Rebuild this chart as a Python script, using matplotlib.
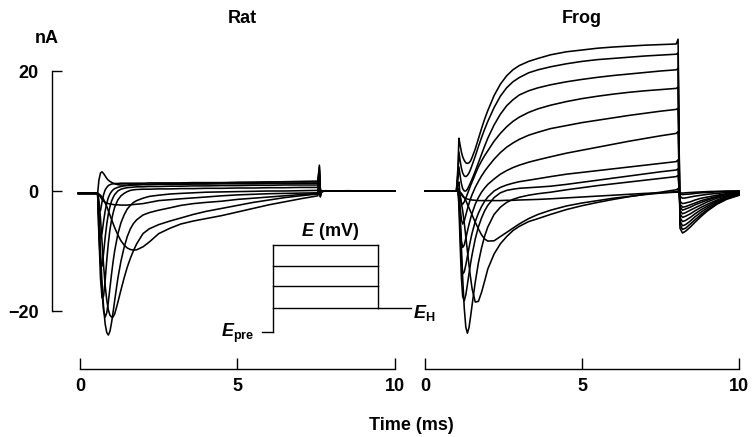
import matplotlib
matplotlib.use("Agg")
import matplotlib.pyplot as plt

plt.rcParams['font.family'] = ['Liberation Sans', 'DejaVu Sans']
plt.rcParams['font.weight'] = 'bold'
plt.rcParams['mathtext.fontset'] = 'custom'
plt.rcParams['mathtext.rm'] = 'Liberation Sans:bold'
plt.rcParams['mathtext.it'] = 'Liberation Sans:italic:bold'

# ---------------- data ----------------
panel_titles = ["Rat", "Frog"]
x_ticks = [0, 5, 10]
y_ticks = [-20, 0, 20]

# Rat: membrane currents (nA) versus time (ms)
rat_t = [-0.05, 0.50,
         0.56, 0.60, 0.65, 0.70, 0.75, 0.80, 0.85, 0.90, 0.95, 1.00, 1.05, 1.10,
         1.20, 1.30, 1.40, 1.50, 1.60, 1.70, 1.80, 2.00, 2.20, 2.50,
         2.86, 3.20, 3.60, 4.00, 4.50, 5.00, 5.50, 6.00, 6.50, 7.00,
         7.55, 7.60, 7.63, 7.66, 7.70, 7.80, 8.00, 8.50, 9.00, 9.50, 10.00]

rat_i1 = [-0.4, -0.4,
          -0.4, -0.6, -1.0, -1.4, -1.7, -1.9, -2.0, -2.1, -2.15, -2.2, -2.25, -2.3,
          -2.3, -2.35, -2.35, -2.35, -2.3, -2.25, -2.2, -2.1, -1.9, -1.6,
          -1.45, -1.3, -1.15, -1.0, -0.8, -0.65, -0.55, -0.45, -0.4, -0.35,
          -0.3, 0.3, -0.5, -0.2, 0.0, 0.05, 0.0, 0.0, 0.0, 0.0, 0.0]
rat_i2 = [-0.4, -0.4,
          -0.4, -0.5, -0.7, -1.0, -1.4, -2.0, -2.6, -3.3, -4.0, -4.7, -5.4, -6.1,
          -7.3, -8.3, -9.0, -9.5, -9.75, -9.85, -9.8, -9.3, -8.5, -7.1,
          -6.2, -5.5, -5.0, -4.6, -4.1, -3.5, -2.9, -2.3, -1.8, -1.3,
          -0.8, 0.5, -1.0, -0.3, -0.1, 0.0, 0.0, 0.05, 0.0, 0.0, 0.0]
rat_i3 = [-0.4, -0.4,
          -0.4, -1.5, -4.5, -8.5, -12.5, -15.8, -18.2, -19.8, -20.7, -21.0, -21.0, -20.5,
          -18.6, -16.5, -14.5, -12.7, -11.2, -9.9, -8.8, -7.1, -6.3, -5.6,
          -5.0, -4.5, -3.9, -3.4, -2.9, -2.4, -1.9, -1.5, -1.1, -0.8,
          -0.5, 1.0, -0.8, -0.2, 0.0, 0.0, 0.0, 0.0, 0.0, 0.0, 0.0]
rat_i4 = [-0.4, -0.4,
          -0.4, -4.0, -10.0, -15.5, -19.5, -22.2, -23.6, -24.0, -23.4, -22.0, -20.2, -18.3,
          -14.6, -11.7, -9.4, -7.6, -6.3, -5.4, -4.8, -4.0, -3.6, -3.2,
          -2.8, -2.4, -2.1, -1.9, -1.7, -1.4, -1.2, -1.0, -0.8, -0.6,
          -0.4, 1.5, -0.6, -0.1, 0.0, 0.0, 0.0, 0.0, 0.0, 0.0, 0.0]
rat_i5 = [-0.4, -0.4,
          -0.4, -4.5, -11.5, -17.0, -20.0, -21.0, -20.3, -18.5, -16.2, -13.9, -11.8, -10.0,
          -7.2, -5.3, -4.0, -3.0, -2.4, -1.9, -1.6, -1.2, -0.9, -0.7,
          -0.5, -0.4, -0.3, -0.2, -0.15, -0.1, -0.05, 0.0, 0.0, 0.05,
          0.1, 2.0, -0.4, 0.0, 0.0, 0.0, 0.0, 0.0, 0.0, 0.0, 0.0]
rat_i6 = [-0.4, -0.4,
          -0.4, -7.0, -14.5, -17.8, -17.5, -14.8, -11.5, -8.7, -6.5, -4.9, -3.7, -2.7,
          -1.5, -0.8, -0.4, -0.1, 0.1, 0.2, 0.25, 0.3, 0.3, 0.35,
          0.35, 0.4, 0.4, 0.45, 0.45, 0.5, 0.5, 0.55, 0.55, 0.6,
          0.6, 2.5, -0.2, 0.0, 0.0, 0.0, 0.0, 0.0, 0.0, 0.0, 0.0]
rat_i7 = [-0.4, -0.4,
          -0.4, -7.5, -12.0, -12.5, -10.3, -7.7, -5.5, -3.8, -2.6, -1.7, -1.1, -0.6,
          0.0, 0.3, 0.45, 0.55, 0.6, 0.65, 0.7, 0.7, 0.75, 0.75,
          0.8, 0.8, 0.85, 0.85, 0.9, 0.9, 0.95, 0.95, 1.0, 1.0,
          1.0, 3.0, 0.0, 0.0, 0.0, 0.0, 0.0, 0.0, 0.0, 0.0, 0.0]
rat_i8 = [-0.4, -0.4,
          -0.4, -5.0, -7.8, -7.0, -5.0, -3.3, -2.0, -1.1, -0.5, -0.1, 0.2, 0.4,
          0.6, 0.75, 0.85, 0.9, 0.95, 1.0, 1.0, 1.05, 1.05, 1.1,
          1.1, 1.1, 1.15, 1.15, 1.2, 1.2, 1.2, 1.25, 1.25, 1.3,
          1.3, 3.5, 0.1, 0.0, 0.0, 0.0, 0.0, 0.0, 0.0, 0.0, 0.0]
rat_i9 = [-0.4, -0.4,
          -0.4, -3.0, -3.3, -1.8, -0.6, 0.2, 0.6, 0.9, 1.05, 1.15, 1.2, 1.25,
          1.25, 1.3, 1.3, 1.3, 1.3, 1.3, 1.3, 1.3, 1.35, 1.35,
          1.35, 1.35, 1.4, 1.4, 1.4, 1.45, 1.45, 1.5, 1.5, 1.5,
          1.5, 4.0, 0.2, 0.0, 0.0, 0.0, 0.0, 0.0, 0.0, 0.0, 0.0]
rat_i10 = [-0.4, -0.4,
           -0.4, 1.8, 3.0, 3.2, 2.9, 2.5, 2.1, 1.8, 1.6, 1.45, 1.3, 1.2,
           1.05, 1.0, 1.0, 1.0, 1.05, 1.05, 1.1, 1.15, 1.15, 1.2,
           1.2, 1.25, 1.3, 1.3, 1.35, 1.4, 1.45, 1.5, 1.55, 1.6,
           1.65, 4.3, 0.3, 0.0, 0.0, 0.0, 0.0, 0.0, 0.0, 0.0, 0.0]

# Frog: membrane currents (nA) versus time (ms)
frog_t = [0.0, 1.00,
          1.05, 1.08, 1.12, 1.16, 1.20, 1.25, 1.30, 1.35, 1.40, 1.45, 1.50,
          1.60, 1.70, 1.80, 1.90, 2.00, 2.20, 2.40, 2.60, 2.80, 3.00,
          3.30, 3.60, 4.00, 4.50, 5.00, 5.50, 6.00, 6.50, 7.00, 7.50, 8.00,
          8.06, 8.12, 8.20, 8.30, 8.45, 8.60, 8.80, 9.00, 9.30, 9.60, 10.00]

frog_i1 = [0.0, 0.0,
           0.0, 0.0, -0.3, -0.6, -0.9, -1.1, -1.25, -1.35, -1.4, -1.45, -1.5,
           -1.55, -1.6, -1.6, -1.6, -1.6, -1.6, -1.6, -1.55, -1.55, -1.5,
           -1.45, -1.4, -1.3, -1.15, -1.0, -0.85, -0.7, -0.55, -0.4, -0.3, -0.2,
           -0.2, -0.3, -0.35, -0.3, -0.25, -0.2, -0.15, -0.1, -0.05, 0.0, 0.0]
frog_i2 = [0.0, 0.0,
           0.0, 0.0, -0.2, -0.4, -0.7, -1.1, -1.6, -2.2, -2.8, -3.4, -4.0,
           -5.2, -6.3, -7.3, -8.0, -8.35, -8.3, -7.6, -6.9, -6.2, -5.5,
           -4.6, -3.9, -3.2, -2.5, -2.0, -1.6, -1.2, -0.9, -0.6, -0.35, -0.1,
           0.0, -0.5, -0.6, -0.55, -0.5, -0.4, -0.3, -0.25, -0.15, -0.1, 0.0]
frog_i3 = [0.0, 0.0,
           0.0, -0.3, -1.0, -2.0, -3.3, -5.3, -7.6, -10.0, -12.3, -14.4, -16.3,
           -18.5, -18.4, -16.9, -15.0, -13.0, -10.5, -8.8, -7.6, -6.6, -5.9,
           -5.1, -4.6, -3.9, -3.1, -2.45, -1.9, -1.4, -0.95, -0.55, -0.2, 0.2,
           0.4, -0.9, -1.2, -1.15, -1.0, -0.85, -0.7, -0.55, -0.4, -0.25, -0.1]
frog_i4 = [0.0, 0.0,
           0.0, -1.0, -4.5, -9.5, -14.5, -19.5, -22.7, -23.7, -22.8, -21.0, -19.0,
           -15.2, -12.0, -9.5, -7.5, -6.0, -3.9, -2.7, -1.9, -1.4, -1.05,
           -0.7, -0.45, -0.2, 0.2, 0.55, 0.9, 1.2, 1.5, 1.8, 2.1, 2.4,
           2.6, -1.7, -2.1, -2.0, -1.8, -1.5, -1.2, -1.0, -0.7, -0.45, -0.2]
frog_i5 = [0.0, 0.0,
           0.1, -2.5, -9.0, -14.5, -17.6, -18.3, -17.3, -15.6, -13.8, -12.1, -10.6,
           -8.0, -6.0, -4.5, -3.3, -2.4, -1.1, -0.3, 0.1, 0.3, 0.45,
           0.55, 0.65, 0.8, 1.1, 1.45, 1.8, 2.15, 2.5, 2.85, 3.2, 3.5,
           3.7, -2.2, -2.7, -2.6, -2.3, -2.0, -1.6, -1.3, -0.9, -0.55, -0.3]
frog_i6 = [0.0, 0.0,
           0.2, -1.5, -6.5, -11.5, -13.8, -13.5, -12.3, -10.9, -9.5, -8.2, -7.0,
           -5.1, -3.7, -2.6, -1.7, -1.0, 0.0, 0.6, 1.0, 1.3, 1.55,
           1.8, 2.05, 2.4, 2.8, 3.1, 3.4, 3.7, 4.0, 4.3, 4.6, 4.9,
           5.2, -2.6, -3.2, -3.0, -2.7, -2.3, -1.9, -1.5, -1.0, -0.6, -0.3]
frog_i7 = [0.0, 0.0,
           0.3, -1.0, -5.0, -8.3, -9.4, -9.0, -7.9, -6.7, -5.6, -4.6, -3.7,
           -2.2, -1.1, -0.2, 0.5, 1.1, 2.0, 2.8, 3.4, 3.9, 4.3,
           4.8, 5.2, 5.7, 6.3, 6.8, 7.3, 7.8, 8.3, 8.75, 9.2, 9.6,
           9.9, -3.2, -3.8, -3.6, -3.2, -2.8, -2.3, -1.8, -1.2, -0.8, -0.4]
frog_i8 = [0.0, 0.0,
           0.5, 0.0, -2.8, -4.8, -5.5, -5.0, -4.0, -3.0, -2.1, -1.3, -0.6,
           0.6, 1.6, 2.5, 3.3, 4.0, 5.3, 6.4, 7.3, 8.0, 8.6,
           9.3, 9.8, 10.4, 10.9, 11.4, 11.8, 12.2, 12.6, 12.95, 13.3, 13.6,
           13.8, -3.8, -4.4, -4.2, -3.8, -3.3, -2.7, -2.2, -1.5, -0.9, -0.5]
frog_i9 = [0.0, 0.0,
           1.0, 1.5, -0.8, -2.0, -2.2, -1.8, -1.2, -0.5, 0.2, 0.9, 1.5,
           2.8, 4.0, 5.0, 5.9, 6.7, 8.3, 9.6, 10.7, 11.6, 12.3,
           13.1, 13.7, 14.3, 14.9, 15.4, 15.8, 16.15, 16.45, 16.7, 16.9, 17.1,
           17.3, -4.4, -5.1, -4.9, -4.4, -3.8, -3.1, -2.5, -1.7, -1.1, -0.5]
frog_i10 = [0.0, 0.0,
            2.0, 4.0, 2.5, 1.2, 0.4, 0.0, 0.0, 0.3, 0.8, 1.4, 2.0,
            3.3, 4.7, 6.1, 7.5, 8.8, 11.0, 12.8, 14.2, 15.2, 16.0,
            16.7, 17.2, 17.7, 18.2, 18.6, 18.95, 19.25, 19.5, 19.75, 20.0, 20.2,
            20.4, -5.0, -5.8, -5.6, -5.0, -4.3, -3.5, -2.8, -1.9, -1.2, -0.6]
frog_i11 = [0.0, 0.0,
            3.0, 6.5, 5.0, 3.8, 3.0, 2.5, 2.4, 2.6, 3.0, 3.6, 4.3,
            5.8, 7.4, 8.9, 10.3, 11.6, 13.9, 15.8, 17.2, 18.2, 18.9,
            19.7, 20.2, 20.7, 21.2, 21.6, 21.9, 22.1, 22.3, 22.5, 22.65, 22.8,
            23.0, -5.6, -6.4, -6.2, -5.5, -4.8, -3.9, -3.1, -2.1, -1.3, -0.7]
frog_i12 = [0.0, 0.0,
            4.0, 8.8, 7.6, 6.5, 5.7, 5.1, 4.7, 4.6, 4.7, 5.0, 5.6,
            7.0, 8.7, 10.4, 12.0, 13.4, 15.9, 17.8, 19.2, 20.2, 20.9,
            21.6, 22.1, 22.7, 23.2, 23.5, 23.8, 24.0, 24.15, 24.3, 24.4, 24.5,
            25.3, -6.2, -7.0, -6.7, -6.0, -5.2, -4.2, -3.3, -2.2, -1.4, -0.7]

rat_traces = [rat_i1, rat_i2, rat_i3, rat_i4, rat_i5,
              rat_i6, rat_i7, rat_i8, rat_i9, rat_i10]
frog_traces = [frog_i1, frog_i2, frog_i3, frog_i4, frog_i5, frog_i6,
               frog_i7, frog_i8, frog_i9, frog_i10, frog_i11, frog_i12]

# voltage-protocol schematic (drawn in the Rat panel's coordinates)
proto_levels = [-9.0, -12.5, -15.9, -19.5]
proto_pre = -23.5
proto_t_pre, proto_t_on, proto_t_off, proto_t_end = 5.78, 6.14, 9.46, 10.52

# ---------------- figure ----------------
W, H = 752, 437
fig = plt.figure(figsize=(W / 100, H / 100), dpi=100)

FS = 13
LW = 1.15
SLW = 1.0
YLIM = (-31, 27)
AX_Y = -29.7


def add_px_axes(x0, y0, x1, y1):
    return fig.add_axes([x0 / W, 1 - y1 / H, (x1 - x0) / W, (y1 - y0) / H])


ax_rat = add_px_axes(51.96, 29, 401.3, 377)
ax_rat.set_xlim(-0.89, 10.2)
ax_frog = add_px_axes(415.58, 29, 745.28, 377)
ax_frog.set_xlim(-0.3, 10.2)

for ax in (ax_rat, ax_frog):
    ax.set_ylim(*YLIM)
    ax.set_facecolor('none')
    for s in ('top', 'right'):
        ax.spines[s].set_visible(False)
    ax.spines['bottom'].set_position(('data', AX_Y))
    ax.spines['bottom'].set_bounds(0, 10)
    ax.spines['bottom'].set_linewidth(SLW)
    ax.set_xticks(x_ticks)
    ax.set_xticklabels([str(v) for v in x_ticks])
    ax.tick_params(axis='x', direction='in', length=7.9, width=SLW,
                   pad=6.0, labelsize=FS)

ax_rat.spines['left'].set_bounds(-20, 20)
ax_rat.spines['left'].set_linewidth(SLW)
ax_rat.set_yticks(y_ticks)
ax_rat.set_yticklabels(['\u221220', '0', '20'])
ax_rat.tick_params(axis='y', direction='in', length=7.2, width=SLW,
                   pad=9.5, labelsize=FS)

ax_frog.spines['left'].set_visible(False)
ax_frog.set_yticks([])

for tr in rat_traces:
    ax_rat.plot(rat_t, tr, color='black', lw=LW, solid_joinstyle='round')
for tr in frog_traces:
    ax_frog.plot(frog_t, tr, color='black', lw=LW, solid_joinstyle='round')

# voltage protocol
kw = dict(color='black', lw=SLW, clip_on=False)
for lev in proto_levels:
    ax_rat.plot([proto_t_on, proto_t_off], [lev, lev], **kw)
ax_rat.plot([proto_t_off, proto_t_end], [proto_levels[-1]] * 2, **kw)
ax_rat.plot([proto_t_on, proto_t_on], [proto_pre, proto_levels[0]], **kw)
ax_rat.plot([proto_t_off, proto_t_off], [proto_levels[-1], proto_levels[0]], **kw)
ax_rat.plot([proto_t_pre, proto_t_on], [proto_pre, proto_pre], **kw)


def ftext(x, y, s, **k):
    fig.text(x / W, 1 - y / H, s, fontsize=FS, fontweight='bold', **k)


ftext(242, 23, panel_titles[0], ha='center', va='baseline')
ftext(581.5, 23, panel_titles[1], ha='center', va='baseline')
ftext(46.7, 43, 'nA', ha='center', va='baseline')
ftext(411.5, 430, 'Time (ms)', ha='center', va='baseline')
ftext(330, 236, r'$E$ (mV)', ha='center', va='baseline')
ftext(254, 337, r'$E_{\mathrm{pre}}$', ha='right', va='baseline')
ftext(413, 318, r'$E_{\mathrm{H}}$', ha='left', va='baseline')

fig.savefig('out.png', dpi=100)
